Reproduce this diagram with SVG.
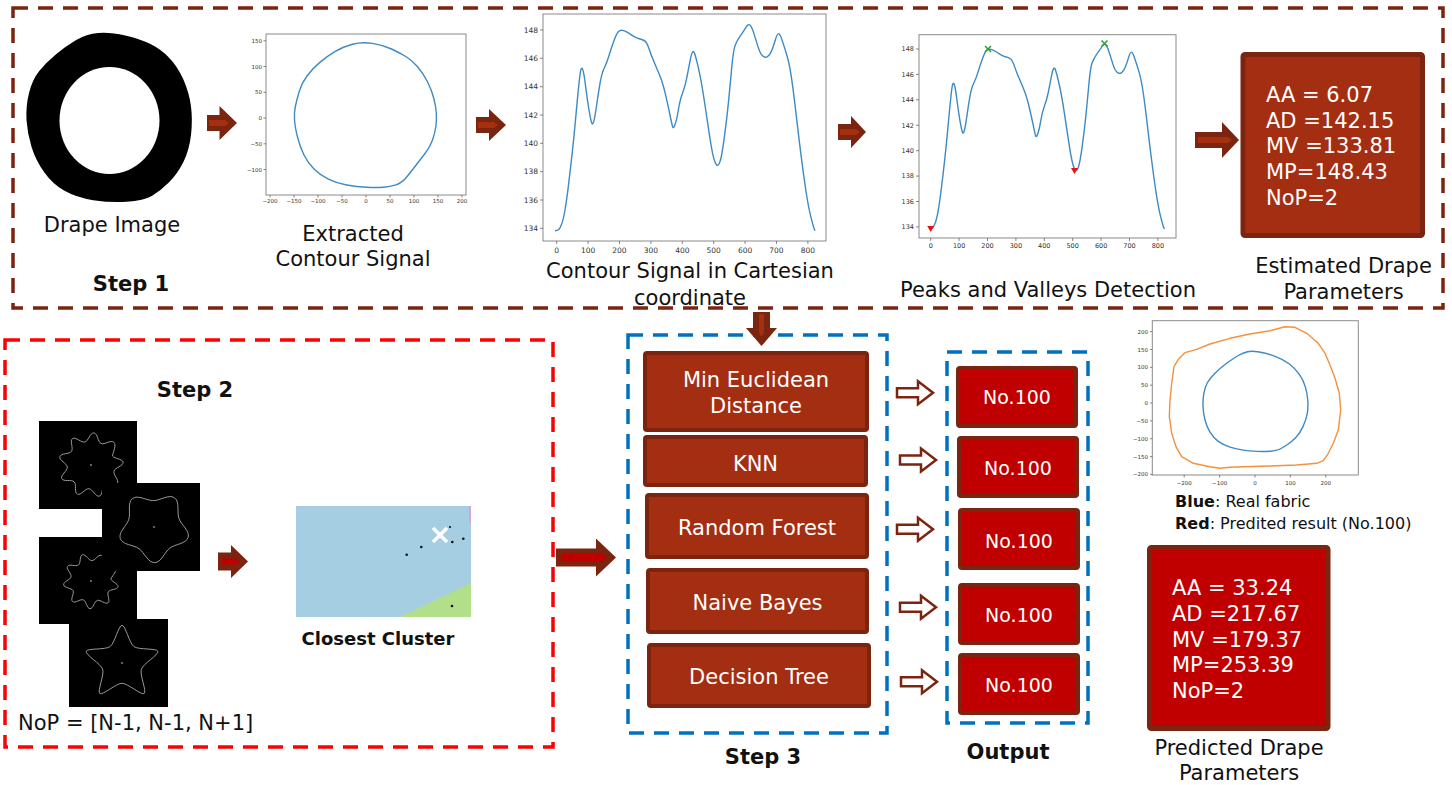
<svg xmlns="http://www.w3.org/2000/svg" xmlns:xlink="http://www.w3.org/1999/xlink" width="1452" height="785" viewBox="0 0 1452 785">
<style>
  text { font-family: "DejaVu Sans", Verdana, sans-serif; }
  .lbl { font-size: 21px; fill: #111; text-anchor: middle; }
  .bold { font-weight: bold; }
  .wt { font-size: 21px; fill: #fff; }
  .wc { font-size: 21px; fill: #fff; text-anchor: middle; }
  .no { font-size: 19px; fill: #fff; text-anchor: middle; }
  .frame-brown { fill: none; stroke: #7b2410; stroke-width: 3.5; stroke-dasharray: 15 10; }
  .frame-red { fill: none; stroke: #ff0000; stroke-width: 3.5; stroke-dasharray: 15 10; }
  .frame-blue { fill: none; stroke: #0070c0; stroke-width: 3.5; stroke-dasharray: 15 10; }
  .method { fill: #a42e12; stroke: #7b2410; stroke-width: 4; }
  .out { fill: #c00000; stroke: #7b2410; stroke-width: 4; }
  .axis { fill: none; stroke: #8a8a8a; stroke-width: 1; }
  .tk { fill: none; stroke: #555; stroke-width: 0.7; }
  .curve { fill: none; stroke: #3d8ac4; stroke-width: 1.4; stroke-linejoin: round; vector-effect: non-scaling-stroke; }
  .orange { fill: none; stroke: #f5913c; stroke-width: 1.4; stroke-linejoin: round; }
  .shape { fill: none; stroke: #9a9a9a; stroke-width: 1; vector-effect: non-scaling-stroke; }
  .t55 { font-size: 5.5px; fill: #333; }
  .t65 { font-size: 6.5px; fill: #333; }
  .t75 { font-size: 7.5px; fill: #333; }
  .end { text-anchor: end; }
  .mid { text-anchor: middle; }
  .arrow { fill: #7b2410; }
  .arrow-in { fill: #a5300f; }
  .arrow-red { fill: #c00000; }
  .hollow { fill: #fff; stroke: #7b2410; stroke-width: 2.5; stroke-linejoin: miter; }
</style>
<defs>
  <!-- nine-lobed wavy outline, unit radius 100 -->
  <path id="wavy9" class="shape" d="M115,0 C115,14 84.7,15.9 79.9,29.1 C75.1,42.3 97.1,63.2 88.1,73.9 C79.1,84.6 54.6,66.6 42.5,73.6 C30.4,80.6 33.8,110.9 20,113.3 C6.2,115.7 -1,86.1 -14.8,83.7 C-28.6,81.3 -45.4,106.6 -57.5,99.6 C-69.6,92.6 -56.1,65.4 -65.1,54.7 C-74.1,44 -103.3,52.5 -108.1,39.3 C-112.9,26.1 -85,14 -85,0 C-85,-14 -112.9,-26.1 -108.1,-39.3 C-103.3,-52.5 -74.1,-44 -65.1,-54.7 C-56.1,-65.4 -69.6,-92.6 -57.5,-99.6 C-45.4,-106.6 -28.6,-81.3 -14.8,-83.7 C-1,-86.1 6.2,-115.7 20,-113.3 C33.8,-110.9 30.4,-80.6 42.5,-73.6 C54.6,-66.6 79.1,-84.6 88.1,-73.9 C97.1,-63.2 84.7,-42.3 79.9,-29.1 C75.1,-15.9 115,-14 115,0 Z"/>
  <!-- five-lobed rounded outline -->
  <path id="lobe5" class="shape" d="M115,0 C115,22 81.7,32.2 68.8,50 C55.9,67.8 56.4,102.6 35.5,109.4 C14.6,116.2 -5.4,87.6 -26.3,80.8 C-47.2,74 -80.1,85.4 -93,67.6 C-105.9,49.8 -85,22 -85,0 C-85,-22 -105.9,-49.8 -93,-67.6 C-80.1,-85.4 -47.2,-74 -26.3,-80.8 C-5.4,-87.6 14.6,-116.2 35.5,-109.4 C56.4,-102.6 55.9,-67.8 68.8,-50 C81.7,-32.2 115,-22 115,0 Z"/>
  <!-- five-pointed star outline -->
  <path id="star5" class="shape" d="M130,0 C130,12 68.4,25 56.6,41.2 C44.8,57.4 51.6,119.9 40.2,123.6 C28.8,127.3 -2.6,72.8 -21.6,66.6 C-40.6,60.4 -98.1,86.1 -105.2,76.4 C-112.3,66.7 -70,20 -70,0 C-70,-20 -112.3,-66.7 -105.2,-76.4 C-98.1,-86.1 -40.6,-60.4 -21.6,-66.6 C-2.6,-72.8 28.8,-127.3 40.2,-123.6 C51.6,-119.9 44.8,-57.4 56.6,-41.2 C68.4,-25 130,-12 130,0 Z"/>
  <path id="hollow-arrow" class="hollow" d="M0,-4.5 H21 V-11.5 L36,0 L21,11.5 V4.5 H0 Z"/>
</defs>

<!-- ===== Step 1 frame ===== -->
<g id="step1-frame">
  <rect class="frame-brown" x="13" y="8" width="1430" height="300"/>
  <text class="lbl bold" x="131" y="291">Step 1</text>
</g>

<!-- drape image -->
<g id="drape-image">
  <path d="M98.35,34 Q110,33 125,36.5 Q140,40 150,45 Q160,50 168.35,58.35 Q176.7,66.7 182.5,80 Q188.3,93.3 190,106.65 Q191.7,120 190,135 Q188.3,150 182.5,161.65 Q176.7,173.3 168.35,181.65 Q160,190 151.65,195 Q143.3,200 126.65,200.85 Q110,201.7 93.35,199.2 Q76.7,196.7 65,190 Q53.3,183.3 45,171.65 Q36.7,160 32.5,146.65 Q28.3,133.3 27.5,120 Q26.7,106.7 30,93.35 Q33.3,80 40,71.65 Q46.7,63.3 56.7,55 Q66.7,46.7 76.7,40.85 Q86.7,35 98.35,34 Z" fill="#000" stroke="#000" stroke-width="2"/>
  <ellipse cx="109.5" cy="120.5" rx="50" ry="53.5" fill="#fff"/>
  <text class="lbl" x="112" y="232">Drape Image</text>
</g>

<!-- extracted contour plot -->
<g id="contour-plot">
  <rect class="axis" x="266" y="34" width="200" height="161"/>
  <path class="tk" d="M263.5,40.8H266 M263.5,66.5H266 M263.5,92.3H266 M263.5,118H266 M263.5,143.8H266 M263.5,169.5H266 M270,195V197.5 M294,195V197.5 M318,195V197.5 M342,195V197.5 M366,195V197.5 M390,195V197.5 M414,195V197.5 M438,195V197.5 M462,195V197.5"/>
  <g class="t55 end">
    <text x="262" y="42.8">150</text><text x="262" y="68.5">100</text><text x="262" y="94.3">50</text><text x="262" y="120">0</text><text x="262" y="145.8">−50</text><text x="262" y="171.5">−100</text>
  </g>
  <g class="t55 mid">
    <text x="270" y="203">−200</text><text x="294" y="203">−150</text><text x="318" y="203">−100</text><text x="342" y="203">−50</text><text x="366" y="203">0</text><text x="390" y="203">50</text><text x="414" y="203">100</text><text x="438" y="203">150</text><text x="462" y="203">200</text>
  </g>
  <path class="curve" d="M352.35,44.2 Q361.7,41.7 372.35,43.35 Q383,45 391.5,49 Q400,53 405.85,56.5 Q411.7,60 417.35,66.5 Q423,73 427.35,81.5 Q431.7,90 433.85,98.5 Q436,107 436.35,113.5 Q436.7,120 435.85,126.5 Q435,133 432.5,140 Q430,147 425,153.5 Q420,160 415,166.5 Q410,173 405.85,178 Q401.7,183 395.85,184.85 Q390,186.7 383.35,187.2 Q376.7,187.7 366.7,187.2 Q356.7,186.7 346.7,185 Q336.7,183.3 328.35,179.15 Q320,175 314,169 Q308,163 304,155 Q300,147 297.5,137 Q295,127 294.5,120 Q294,113 295.35,106.5 Q296.7,100 299.2,91.5 Q301.7,83 307.35,75.5 Q313,68 319.85,62.35 Q326.7,56.7 334.85,51.7 Q343,46.7 352.35,44.2 Z"/>
  <text class="lbl" x="353" y="241">Extracted</text>
  <text class="lbl" x="353" y="266">Contour Signal</text>
</g>

<!-- contour signal in cartesian coordinates -->
<g id="cartesian-plot">
  <rect class="axis" x="543" y="14" width="283" height="227"/>
  <path class="tk" d="M540,30H543 M540,58.3H543 M540,86.7H543 M540,115H543 M540,143.3H543 M540,171.7H543 M540,200H543 M540,228.3H543 M556.7,241V244 M588.1,241V244 M619.5,241V244 M650.9,241V244 M682.3,241V244 M713.7,241V244 M745.1,241V244 M776.5,241V244 M807.9,241V244"/>
  <g class="t75 end">
    <text x="538" y="32.7">148</text><text x="538" y="61">146</text><text x="538" y="89.4">144</text><text x="538" y="117.7">142</text><text x="538" y="146">140</text><text x="538" y="174.4">138</text><text x="538" y="202.7">136</text><text x="538" y="231">134</text>
  </g>
  <g class="t75 mid">
    <text x="556.7" y="253">0</text><text x="588.1" y="253">100</text><text x="619.5" y="253">200</text><text x="650.9" y="253">300</text><text x="682.3" y="253">400</text><text x="713.7" y="253">500</text><text x="745.1" y="253">600</text><text x="776.5" y="253">700</text><text x="807.9" y="253">800</text>
  </g>
  <path id="signal" class="curve" d="M555,230.7 L557.15,230.35 Q559.3,230 561.3,225 Q563.3,220 565,210 Q566.7,200 568.7,183.35 Q570.7,166.7 572.35,151.7 Q574,136.7 575.65,118.35 Q577.3,100 578.65,86.65 Q580,73.3 580.85,69.9 Q581.7,66.5 582.85,69.9 Q584,73.3 585.65,86.65 Q587.3,100 589,110 Q590.7,120 591.7,122.75 Q592.7,125.5 593.85,121.1 Q595,116.7 596.65,105 Q598.3,93.3 600,83.3 Q601.7,73.3 604.2,68.3 Q606.7,63.3 609.2,55 Q611.7,46.7 614.2,40 Q616.7,33.3 618.35,31.65 Q620,30 622.5,30.35 Q625,30.7 627.5,32.35 Q630,34 633.35,36.15 Q636.7,38.3 639.2,38.8 Q641.7,39.3 644.2,40.5 Q646.7,41.7 649.2,49.2 Q651.7,56.7 655,64.2 Q658.3,71.7 660.8,78.35 Q663.3,85 665.8,95.85 Q668.3,106.7 670,115 Q671.7,123.3 672.5,126.4 Q673.3,129.5 675,124.75 Q676.7,120 678.35,110 Q680,100 682.5,93.35 Q685,86.7 686.65,78.35 Q688.3,70 690.5,58.75 Q692.7,47.5 694.7,53.75 Q696.7,60 699.2,71.65 Q701.7,83.3 704.2,100 Q706.7,116.7 709.2,133.35 Q711.7,150 713.35,156.65 Q715,163.3 716.65,164.9 Q718.3,166.5 720,161.6 Q721.7,156.7 724.2,138.35 Q726.7,120 728.35,103.35 Q730,86.7 731.65,68.35 Q733.3,50 735.3,45 Q737.3,40 740.3,35.85 Q743.3,31.7 745.8,27.6 Q748.3,23.5 750,25.1 Q751.7,26.7 753.85,33.35 Q756,40 758,46.65 Q760,53.3 762.5,55.8 Q765,58.3 767.5,56.65 Q770,55 771.65,50.85 Q773.3,46.7 775.3,40 Q777.3,33.3 778.65,33.65 Q780,34 782.15,40.35 Q784.3,46.7 786.8,55 Q789.3,63.3 791.3,76.65 Q793.3,90 795.8,111.65 Q798.3,133.3 800.8,153.3 Q803.3,173.3 805.8,190 Q808.3,206.7 810.8,216.7 Q813.3,226.7 814.15,228.7 L815,230.7"/>
  <text class="lbl" x="690" y="278">Contour Signal in Cartesian</text>
  <text class="lbl" x="690" y="305">coordinate</text>
</g>

<!-- peaks and valleys detection -->
<g id="peaks-plot">
  <rect class="axis" x="919" y="34.7" width="257" height="203.3"/>
  <path class="tk" d="M916,49H919 M916,74.4H919 M916,99.8H919 M916,125.3H919 M916,150.7H919 M916,176.1H919 M916,201.5H919 M916,226.9H919 M930.7,238V241 M959.1,238V241 M987.5,238V241 M1015.9,238V241 M1044.3,238V241 M1072.7,238V241 M1101.1,238V241 M1129.5,238V241 M1157.9,238V241"/>
  <g class="t65 end">
    <text x="914" y="51.3">148</text><text x="914" y="76.7">146</text><text x="914" y="102.1">144</text><text x="914" y="127.6">142</text><text x="914" y="153">140</text><text x="914" y="178.4">138</text><text x="914" y="203.8">136</text><text x="914" y="229.2">134</text>
  </g>
  <g class="t65 mid">
    <text x="930.7" y="248">0</text><text x="959.1" y="248">100</text><text x="987.5" y="248">200</text><text x="1015.9" y="248">300</text><text x="1044.3" y="248">400</text><text x="1072.7" y="248">500</text><text x="1101.1" y="248">600</text><text x="1129.5" y="248">700</text><text x="1157.9" y="248">800</text>
  </g>
  <use href="#signal" xlink:href="#signal" transform="matrix(0.9045 0 0 0.897 427.2 22)"/>
  <path d="M927.2,226 L934.2,226 L930.7,232 Z M1071,168 L1078,168 L1074.5,174 Z" fill="#ee1111"/>
  <path d="M985,46 L991,52 M991,46 L985,52 M1101.5,40.5 L1107.5,46.5 M1107.5,40.5 L1101.5,46.5" stroke="#2ca02c" stroke-width="1.5"/>
  <text class="lbl" x="1048" y="297">Peaks and Valleys Detection</text>
</g>

<!-- estimated drape parameters -->
<g id="estimated-params">
  <rect x="1243" y="54.5" width="179.5" height="181" rx="2" fill="#a42e12" stroke="#7b2410" stroke-width="5"/>
  <text class="wt" x="1266" y="101.7">AA = 6.07</text>
  <text class="wt" x="1266" y="127.5">AD =142.15</text>
  <text class="wt" x="1266" y="153.3">MV =133.81</text>
  <text class="wt" x="1266" y="179">MP=148.43</text>
  <text class="wt" x="1266" y="204.8">NoP=2</text>
  <text class="lbl" x="1343.5" y="273">Estimated Drape</text>
  <text class="lbl" x="1343.5" y="298.5">Parameters</text>
</g>

<!-- ===== Step 2 frame ===== -->
<g id="step2-frame">
  <rect class="frame-red" x="5" y="340" width="548" height="407"/>
  <text class="lbl bold" x="195" y="397">Step 2</text>
  <text class="lbl" x="18" y="730" style="text-anchor:start">NoP = [N-1, N-1, N+1]</text>
</g>

<!-- candidate drape shapes -->
<g id="sample-shapes">
  <g id="sample-1">
    <rect x="39" y="421" width="98" height="88" fill="#000"/>
    <use href="#wavy9" xlink:href="#wavy9" transform="translate(91,465) scale(0.28) rotate(-5)"/>
    <circle cx="91" cy="465" r="0.8" fill="#ddd"/>
  </g>
  <g id="sample-3">
    <rect x="39" y="537" width="98" height="87" fill="#000"/>
    <use href="#wavy9" xlink:href="#wavy9" transform="translate(91,581) scale(0.24) rotate(12)"/>
    <circle cx="91" cy="581" r="0.8" fill="#ddd"/>
  </g>
  <g id="sample-2">
    <rect x="102" y="483" width="98" height="88" fill="#000"/>
    <use href="#lobe5" xlink:href="#lobe5" transform="translate(154,527) scale(0.31) rotate(-55)"/>
    <circle cx="154" cy="527" r="0.8" fill="#ddd"/>
  </g>
  <g id="sample-4">
    <rect x="69" y="619" width="99" height="88" fill="#000"/>
    <use href="#star5" xlink:href="#star5" transform="translate(122,663) scale(0.29) rotate(-90)"/>
    <circle cx="122" cy="663" r="0.8" fill="#ddd"/>
  </g>
</g>

<!-- closest cluster map -->
<g id="cluster-map">
  <rect x="296" y="506" width="175" height="111" fill="#a6cee3"/>
  <polygon points="400,617 471,583 471,617" fill="#b2df8a"/>
  <rect x="469" y="506" width="2" height="17" fill="#d9a5d6"/>
  <g fill="#111">
    <circle cx="406.7" cy="554.7" r="1.3"/>
    <circle cx="421.3" cy="547" r="1.3"/>
    <circle cx="452.3" cy="542" r="1.3"/>
    <circle cx="463.3" cy="538.7" r="1.3"/>
    <circle cx="450" cy="527" r="1.1"/>
    <circle cx="452" cy="606" r="1.3"/>
  </g>
  <path d="M433,528 L447,542 M447,528 L433,542" stroke="#fff" stroke-width="3.5"/>
  <text class="lbl bold" x="378" y="645" style="font-size:18px">Closest Cluster</text>
</g>

<!-- ===== Step 3 ===== -->
<g id="step3-frame">
  <rect class="frame-blue" x="628" y="335" width="259" height="398"/>
  <text class="lbl bold" x="763" y="764">Step 3</text>
</g>

<g id="method-euclidean">
  <rect class="method" x="645" y="353" width="222" height="77" rx="2"/>
  <text class="wc" x="756" y="387">Min Euclidean</text>
  <text class="wc" x="756" y="413">Distance</text>
</g>
<g id="method-knn">
  <rect class="method" x="645" y="437" width="221" height="48" rx="2"/>
  <text class="wc" x="755.5" y="471">KNN</text>
</g>
<g id="method-random-forest">
  <rect class="method" x="647" y="495" width="220" height="62" rx="2"/>
  <text class="wc" x="757" y="535">Random Forest</text>
</g>
<g id="method-naive-bayes">
  <rect class="method" x="648" y="570" width="219" height="62" rx="2"/>
  <text class="wc" x="757.5" y="610">Naive Bayes</text>
</g>
<g id="method-decision-tree">
  <rect class="method" x="649" y="645" width="220" height="61" rx="2"/>
  <text class="wc" x="759" y="684">Decision Tree</text>
</g>

<!-- outputs -->
<g id="output-frame">
  <rect class="frame-blue" x="947" y="352" width="141" height="371"/>
  <text class="lbl bold" x="1008" y="759">Output</text>
</g>
<g id="output-1"><rect class="out" x="958" y="368" width="118" height="58" rx="2"/><text class="no" x="1017" y="403.5">No.100</text></g>
<g id="output-2"><rect class="out" x="959" y="438" width="118" height="58" rx="2"/><text class="no" x="1018" y="475">No.100</text></g>
<g id="output-3"><rect class="out" x="960" y="510" width="118" height="58" rx="2"/><text class="no" x="1019" y="547.5">No.100</text></g>
<g id="output-4"><rect class="out" x="960" y="585" width="118" height="58" rx="2"/><text class="no" x="1019" y="621.5">No.100</text></g>
<g id="output-5"><rect class="out" x="960" y="655" width="118" height="58" rx="2"/><text class="no" x="1019" y="691.5">No.100</text></g>

<!-- real vs predicted contour overlay -->
<g id="overlay-plot">
  <rect class="axis" x="1152.3" y="320.7" width="206" height="154.3"/>
  <path class="tk" d="M1150,331.6H1152.3 M1150,349.5H1152.3 M1150,367.4H1152.3 M1150,385.2H1152.3 M1150,403H1152.3 M1150,420.9H1152.3 M1150,438.7H1152.3 M1150,456.6H1152.3 M1150,474.4H1152.3 M1184.2,475V477.5 M1219.6,475V477.5 M1255,475V477.5 M1290.4,475V477.5 M1325.8,475V477.5"/>
  <g class="t55 end">
    <text x="1148" y="333.6">200</text><text x="1148" y="351.5">150</text><text x="1148" y="369.4">100</text><text x="1148" y="387.2">50</text><text x="1148" y="405">0</text><text x="1148" y="422.9">−50</text><text x="1148" y="440.7">−100</text><text x="1148" y="458.6">−150</text><text x="1148" y="476.4">−200</text>
  </g>
  <g class="t55 mid">
    <text x="1184.2" y="485">−200</text><text x="1219.6" y="485">−100</text><text x="1255" y="485">0</text><text x="1290.4" y="485">100</text><text x="1325.8" y="485">200</text>
  </g>
  <polyline class="orange" points="1178.3,359.3 1185,352.7 1196.7,349.3 1210,344 1230,338.3 1250,334 1270,330.7 1285,326.7 1295,327.3 1306.7,333.3 1318.3,343.3 1325,353.3 1330,365 1335,378.3 1339.3,393.3 1340.7,410 1338.3,430 1333.3,443.3 1328.3,453.3 1323.3,460.7 1316.7,463.3 1296.7,465 1270,466 1243.3,466.7 1230,467.3 1220,468.3 1210,466.7 1193.3,463.3 1181.7,456.7 1176,446.7 1171.7,433.3 1169.3,416.7 1170,400 1171.7,383.3 1174,366.7 1178.3,359.3"/>
  <path class="curve" d="M1247.5,351.7 Q1251.7,350.7 1259.2,352 Q1266.7,353.3 1275,356.3 Q1283.3,359.3 1289.15,363.8 Q1295,368.3 1299.15,374.15 Q1303.3,380 1305.3,386.65 Q1307.3,393.3 1307.8,400.8 Q1308.3,408.3 1307.15,414.15 Q1306,420 1303,426.65 Q1300,433.3 1295.85,437.5 Q1291.7,441.7 1287.5,444.5 Q1283.3,447.3 1280,449 Q1276.7,450.7 1270,451.2 Q1263.3,451.7 1256.65,451.35 Q1250,451 1243.35,450.15 Q1236.7,449.3 1230,447.15 Q1223.3,445 1218.3,441.35 Q1213.3,437.7 1210,432.2 Q1206.7,426.7 1205,420 Q1203.3,413.3 1203,406.65 Q1202.7,400 1203.85,393.35 Q1205,386.7 1207.5,382.5 Q1210,378.3 1215,373.3 Q1220,368.3 1226.65,363.3 Q1233.3,358.3 1238.3,355.5 Q1243.3,352.7 1247.5,351.7 Z"/>
  <text x="1175" y="507" style="font-size:16px;fill:#111"><tspan font-weight="bold">Blue</tspan>: Real fabric</text>
  <text x="1175" y="528.5" style="font-size:16px;fill:#111"><tspan font-weight="bold">Red</tspan>: Predited result (No.100)</text>
</g>

<!-- predicted drape parameters -->
<g id="predicted-params">
  <rect x="1149.5" y="547.5" width="178.5" height="181" rx="2" fill="#c00000" stroke="#7b2410" stroke-width="5"/>
  <text class="wt" x="1172" y="594.5">AA = 33.24</text>
  <text class="wt" x="1172" y="620.5">AD =217.67</text>
  <text class="wt" x="1172" y="646.5">MV =179.37</text>
  <text class="wt" x="1172" y="672">MP=253.39</text>
  <text class="wt" x="1172" y="697.5">NoP=2</text>
  <text class="lbl" x="1239" y="755">Predicted Drape</text>
  <text class="lbl" x="1239" y="780">Parameters</text>
</g>

<!-- ===== connectors ===== -->
<g id="connectors">
  <path class="arrow" d="M207,115 H219.5 V106 L237,123 L219.5,140 V131 H207 Z"/>
  <path class="arrow-in" d="M209,120 H225 L229,123 L225,126 H209 Z"/>
  <path class="arrow" d="M476,117 H489 V109 L506,125 L489,141 V133 H476 Z"/>
  <path class="arrow-in" d="M478,122 H494 L498,125 L494,128 H478 Z"/>
  <path class="arrow" d="M838,124 H851 V116 L866,132 L851,148 V140 H838 Z"/>
  <path class="arrow-in" d="M840,129 H856 L860,132 L856,135 H840 Z"/>
  <path class="arrow" d="M1195,132 H1222 V122 L1239,140 L1222,158 V148 H1195 Z"/>
  <path class="arrow-in" d="M1198,137 H1228 L1232,140 L1228,143 H1198 Z"/>
  <path class="arrow" d="M753,312 H770 V328 H777 L761.5,346 L746,328 H753 Z"/>
  <path class="arrow-in" d="M759,314 H764 V333 L761.5,337 L759,333 Z"/>
  <path class="arrow" d="M218,552.5 H231 V545 L248,561.5 L231,578 V570.5 H218 Z"/>
  <path class="arrow-red" d="M222,558.5 H236 L240,561.5 L236,564.5 H222 Z"/>
  <path class="arrow" d="M556,548.5 H596 V538.5 L616,557.5 L596,576.5 V566.5 H556 Z"/>
  <path class="arrow-red" d="M561,553.5 H602 L607,557.5 L602,561.5 H561 Z"/>
  <use href="#hollow-arrow" xlink:href="#hollow-arrow" transform="translate(897,392.7)"/>
  <use href="#hollow-arrow" xlink:href="#hollow-arrow" transform="translate(900,460)"/>
  <use href="#hollow-arrow" xlink:href="#hollow-arrow" transform="translate(897,529.3)"/>
  <use href="#hollow-arrow" xlink:href="#hollow-arrow" transform="translate(900,607.3)"/>
  <use href="#hollow-arrow" xlink:href="#hollow-arrow" transform="translate(901,681.7)"/>
</g>
</svg>
